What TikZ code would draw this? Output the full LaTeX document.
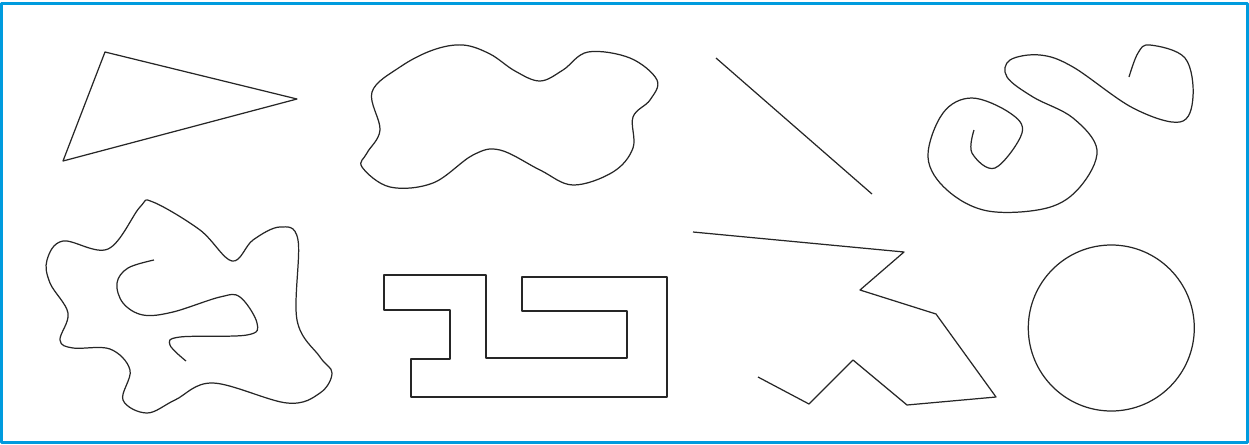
\documentclass[tikz,border=0pt]{standalone}
\usepackage{tikz}
\usepackage{xcolor}
\definecolor{frameblue}{RGB}{0,155,222}

\begin{document}
\begin{tikzpicture}[x=0.02cm, y=-0.02cm, line join=round,
  outline/.style={line width=0.7pt, draw=black!85}]
  \useasboundingbox (0,0) rectangle (1249,444);
  % Ramme
  \draw[frameblue, line width=0.06cm] (1.5,3.5) rectangle (1247.5,442.8);
  % Trekant
  \draw[outline] (105,52) -- (297,99) -- (63,161) -- cycle;
  % Lukket kurve
  \draw[outline] plot[smooth cycle, tension=0.6] coordinates {
    (463,45) (490,54) (515,71) (540,81) (563,70) (588,52) (630,58)
    (657,80) (650,100) (633,117) (633,148) (613,172) (573,185)
    (540,170) (500,150) (473,155) (433,183) (390,187) (362,167)
    (367,153) (380,130) (372,92) (400,67) (433,50)};
  % Linjestykke
  \draw[outline] (716,58) -- (872,194);
  % Spiral
  \draw[outline] plot[smooth, tension=0.6] coordinates {
    (974,130) (972,153) (995,168) (1022,133) (1010,113) (972,98)
    (943,113) (928,157) (947,190) (988,211) (1047,208) (1080,187)
    (1097,150) (1073,118) (1033,97) (1007,77) (1010,60) (1040,55)
    (1073,67) (1133,108) (1180,122) (1193,97) (1185,58)
    (1150,45) (1138,53) (1129,77)};
  % Buktet kurve, ytre
  \draw[outline] plot[smooth cycle, tension=0.6] coordinates {
    (108,249) (63,241) (47,260) (50,283) (68,313) (60,340) (73,348)
    (110,349) (130,370) (123,400) (147,413) (175,400) (213,383)
    (287,403) (320,393) (332,373) (320,357) (297,320) (298,240)
    (280,227) (253,240) (232,261) (200,230) (153,202) (140,207)};
  % Buktet kurve, indre
  \draw[outline] plot[smooth, tension=0.6] coordinates {
    (154,260) (128,268) (117,283) (123,303) (143,315) (173,312)
    (220,297) (240,297) (257,323) (247,335) (180,337) (170,345)
    (186,361)};
  % Rettvinklet mangekant
  \draw[outline] (384,275) -- (486,275) -- (486,358) -- (627,358)
    -- (627,311) -- (522,311) -- (522,277) -- (667,277) -- (667,397)
    -- (411,397) -- (411,359) -- (450,359) -- (450,310) -- (384,310)
    -- cycle;
  % Brutt linje
  \draw[outline] (693,232) -- (904,252) -- (860,290) -- (936,314)
    -- (996,397) -- (907,405) -- (853,360) -- (809,404) -- (758,377);
  % Sirkel
  \draw[outline] (1111.3,328) circle[radius=83];
\end{tikzpicture}
\end{document}
